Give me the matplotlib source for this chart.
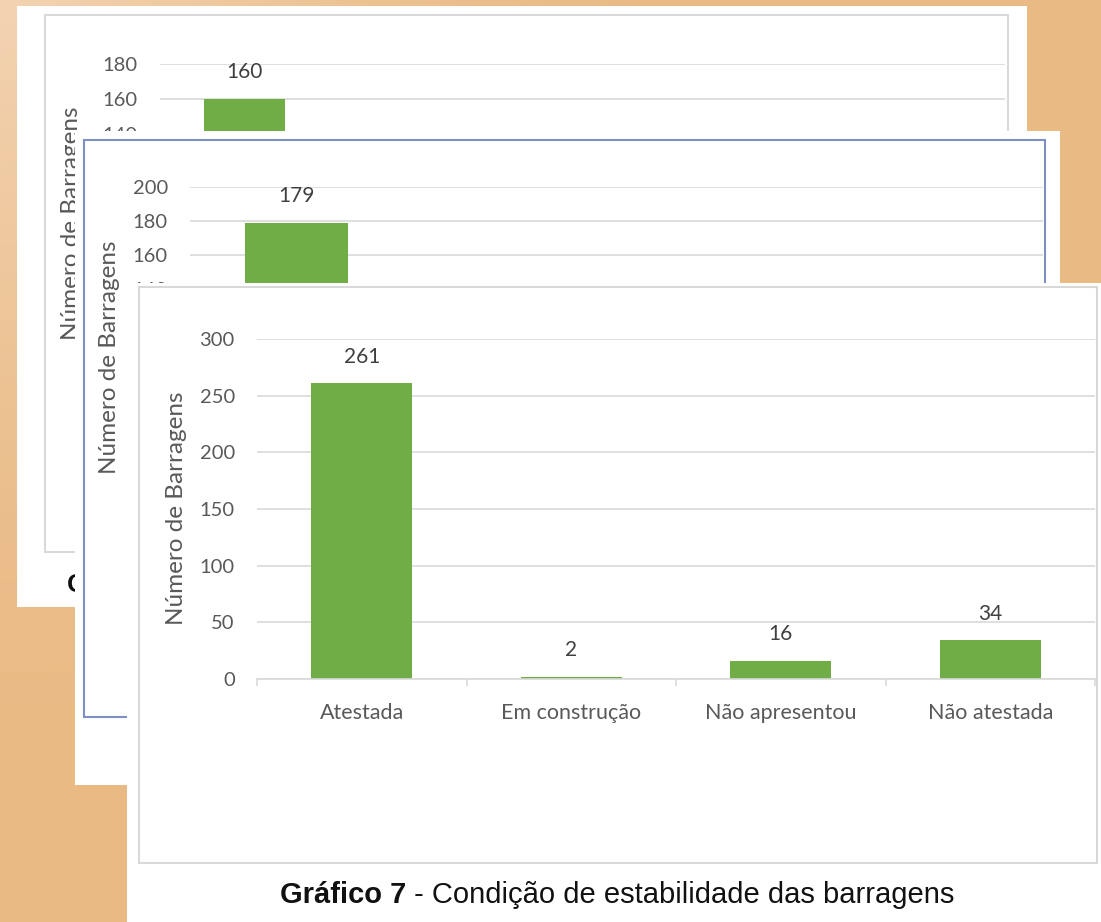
import numpy as np
import matplotlib
matplotlib.use("Agg")
import matplotlib.pyplot as plt
from matplotlib.patches import Rectangle
from matplotlib.text import Annotation
from matplotlib.colors import to_rgb

W, H = 1101, 922

# front chart (fully visible)
categorias = ["Atestada", "Em construção", "Não apresentou", "Não atestada"]
valores = [261, 2, 16, 34]

# charts behind: only their first bar is visible
valores_meio = [179]
valores_fundo = [160]

GREEN = "#70AD47"
GRID = "#D9D9D9"
TICK = "#595959"
LABEL = "#404040"
FONT = ["Lato", "DejaVu Sans"]
ARIAL = ["Liberation Sans", "DejaVu Sans"]

plt.rcParams["font.family"] = FONT

fig = plt.figure(figsize=(W / 100, H / 100), dpi=100)


def fx(x):
    return x / W


def fy(y):
    return 1 - y / H


def box(x0, y0, x1, y1, z, face="white", edge="none", lw=0):
    fig.add_artist(Rectangle((fx(x0), fy(y1)), (x1 - x0) / W, (y1 - y0) / H,
                             transform=fig.transFigure, facecolor=face,
                             edgecolor=edge, linewidth=lw, zorder=z))


def bar_chart(x0, x1, ytop, ybot, ymax, step, n_slots, values, z, labels=None, ymin_tick=0):
    ax = fig.add_axes([fx(x0), fy(ybot), (x1 - x0) / W, (ybot - ytop) / H], zorder=z)
    ax.patch.set_visible(False)
    bars = ax.bar(range(len(values)), values, width=0.48, color=GREEN, zorder=2)
    ax.bar_label(bars, padding=12, fontsize=15, color=LABEL)
    ax.set_xlim(-0.5, n_slots - 0.5)
    ax.set_ylim(0, ymax)
    ax.set_yticks(range(ymin_tick, ymax + 1, step))
    ax.yaxis.grid(True, color=GRID, linewidth=1.2)
    ax.set_axisbelow(True)
    for s in ["top", "right", "left"]:
        ax.spines[s].set_visible(False)
    ax.spines["bottom"].set_color(GRID)
    ax.spines["bottom"].set_linewidth(1.2)
    ax.tick_params(axis="y", length=0, pad=16, labelsize=14.5, labelcolor=TICK)
    ax.set_xticks(range(n_slots))
    ax.set_xticklabels(labels if labels else [""] * n_slots)
    ax.tick_params(axis="x", length=0, pad=17, labelsize=15.5, labelcolor=TICK)
    ax.set_xticks(np.arange(-0.5, n_slots), minor=True)
    ax.tick_params(axis="x", which="minor", length=5, color=GRID, width=1.2)
    return ax


# background
bg = fig.add_axes([0, 0, 1, 1], zorder=-10)
yy, xx = np.mgrid[0:1:200j, 0:1:200j]
d = np.clip(1 - np.hypot(xx * 1.6, yy * 1.2), 0, 1)
c0 = np.array(to_rgb("#E9BA84"))
c1 = np.array(to_rgb("#F3D3B2"))
img = c0 + (c1 - c0) * d[..., None] ** 1.5
bg.imshow(img, extent=[0, 1, 0, 1], origin="upper", aspect="auto")
bg.axis("off")

# back chart (lower part hidden by the middle chart)
box(17, 6, 1027, 607, 1)
box(45, 15, 1008, 552, 1.1, face="none", edge=GRID, lw=1.5)
bar_chart(160, 1005, 64, 379, 180, 20, 5, valores_fundo, 2, ymin_tick=140)
fig.text(fx(72), fy(223), "Número de Barragens", rotation=90, ha="center",
         va="center", fontsize=17.5, color=TICK, zorder=2)
fig.text(fx(67), fy(585), "Gráfico", fontsize=19, fontweight="bold",
         family=ARIAL, va="center", color="#111111", zorder=2)

# middle chart (lower part hidden by the front chart)
box(75, 131, 1060, 785, 3)
box(84, 140, 1045, 717, 3.1, face="none", edge="#7F8FC6", lw=1.5)
bar_chart(190, 1043, 187, 527, 200, 20, 4, valores_meio, 4, ymin_tick=140)
fig.text(fx(109), fy(357), "Número de Barragens", rotation=90, ha="center",
         va="center", fontsize=17.5, color=TICK, zorder=4)

# front chart
box(127, 283, 1101, 922, 5)
box(139, 287, 1097, 863, 5.1, face="none", edge=GRID, lw=1.5)
bar_chart(257, 1095, 339, 679, 300, 50, 4, valores, 6, labels=categorias)
fig.text(fx(177), fy(508), "Número de Barragens", rotation=90, ha="center",
         va="center", fontsize=17.5, color=TICK, zorder=6)

# caption
cap = fig.text(fx(280), fy(895), "Gráfico 7", fontsize=21, fontweight="bold",
               family=ARIAL, va="center", color="#111111", zorder=7)
rest = Annotation(" - Condição de estabilidade das barragens", xy=(1, 0.5),
                  xycoords=cap, va="center", ha="left", fontsize=21,
                  family=ARIAL, color="#111111", zorder=7)
fig.add_artist(rest)

fig.savefig("out.png", dpi=100)
